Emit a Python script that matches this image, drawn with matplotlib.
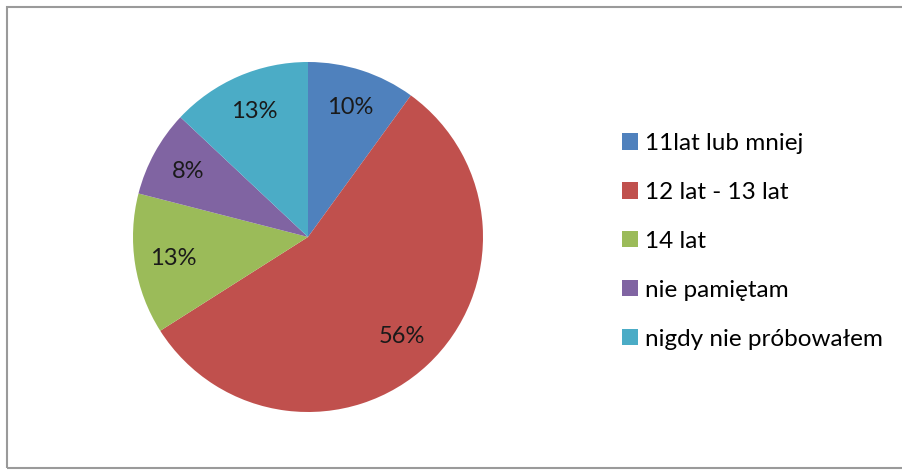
import matplotlib.pyplot as plt
from matplotlib.patches import Rectangle, Patch

labels = ['11lat lub mniej', '12 lat - 13 lat', '14 lat', 'nie pamiętam', 'nigdy nie próbowałem']
values = [10, 56, 13, 8, 13]
colors = ['#4F81BD', '#C0504D', '#9BBB59', '#8064A2', '#4BACC6']

plt.rcParams['font.family'] = ['Lato', 'DejaVu Sans']

W, H = 903, 470
fig = plt.figure(figsize=(W / 100, H / 100), dpi=100)

# outer chart frame (right edge runs off the picture)
fig.patches.append(Rectangle((7 / W, 2 / H), 1.0, 461 / H, transform=fig.transFigure,
                             fill=False, edgecolor='#9a9a9a', linewidth=1.5))

cx, cy, r = 308, 237, 175
ax = fig.add_axes([(cx - r) / W, (H - cy - r) / H, 2 * r / W, 2 * r / H])
wedges, texts = ax.pie(values, colors=colors, startangle=90, counterclock=False,
                       labels=[f'{v}%' for v in values], labeldistance=0.78,
                       wedgeprops=dict(linewidth=0))
for t in texts:
    t.set_fontsize(17)
    t.set_color('#1a1a1a')
    t.set_ha('center')
    t.set_va('center')
ax.set_xlim(-1, 1)
ax.set_ylim(-1, 1)
ax.set_aspect('equal')
ax.axis('off')

handles = [Patch(facecolor=c, edgecolor='none') for c in colors]
fig.legend(handles, labels, loc='upper left', bbox_to_anchor=(622 / W, (H - 133) / H),
           frameon=False, fontsize=17.5, handlelength=0.65, handleheight=0.65,
           handletextpad=0.3, labelspacing=1.15, borderpad=0, borderaxespad=0)

fig.savefig('out.png', dpi=100)
